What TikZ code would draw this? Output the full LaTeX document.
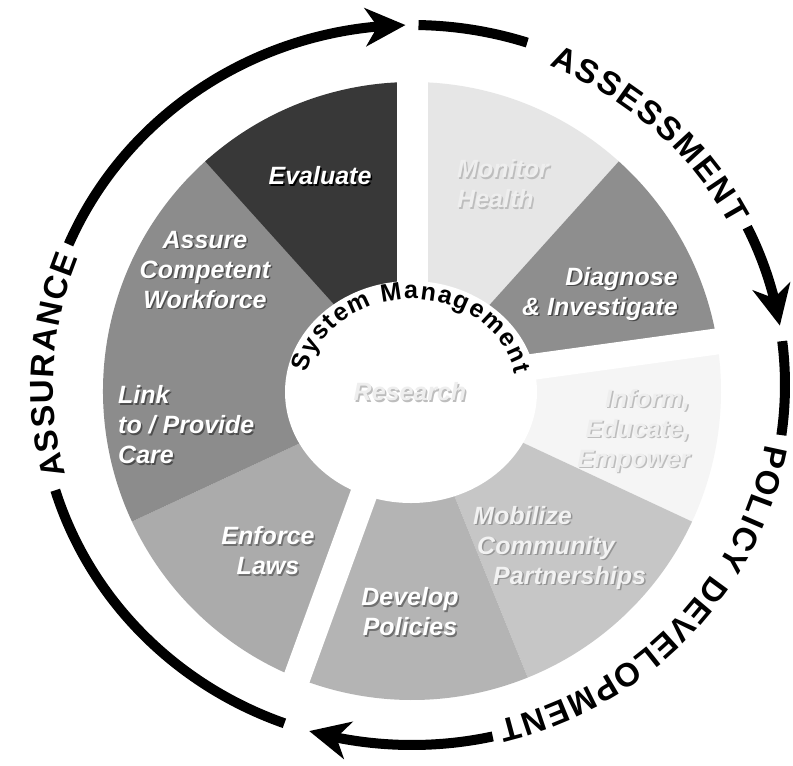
\documentclass[tikz,border=0pt]{standalone}
\usepackage{fontspec}
\setsansfont{Liberation Sans}
\usetikzlibrary{arrows.meta,bending,decorations.text}
\newcommand\rngfnt{\fontsize{33}{33}\selectfont\sffamily\bfseries}
\newcommand\smfnt{\fontsize{25}{25}\selectfont\sffamily\bfseries}
\definecolor{cEval}{HTML}{383838}
\definecolor{cAss}{HTML}{8C8C8C}
\definecolor{cEnf}{HTML}{ABABAB}
\definecolor{cDev}{HTML}{B4B4B4}
\definecolor{cMob}{HTML}{C6C6C6}
\definecolor{cInf}{HTML}{F5F5F5}
\definecolor{cDiag}{HTML}{8E8E8E}
\definecolor{cMon}{HTML}{E6E6E6}
\definecolor{cAsS}{HTML}{4E4E4E}
\definecolor{cDiagS}{HTML}{484848}
\definecolor{cDevS}{HTML}{707070}
\definecolor{cMobS}{HTML}{959595}
\definecolor{cMobF}{HTML}{F2F2F2}
\definecolor{cFaintS}{HTML}{BDBDBD}
\definecolor{cFaintF}{HTML}{EEEEEE}
\newcommand\wedgefill[3]{\fill[#3] (W) -- ++(#1:309pt) arc[start angle=#1,end angle=#2,radius=309pt] -- cycle;}
\newcommand\seglbl[6]{%
  \node[lbl,#2,text=#4,xshift=1.5pt,yshift=-1.5pt] (#1s) at (#3) {#6};
  \node[lbl,#2,text=#5] (#1) at (#3) {#6};}
\begin{document}
\begin{tikzpicture}[x=1pt,y=1pt,
  ring/.style={line width=10pt,draw=black},
  ringarrow/.style={ring,-{Stealth[length=40pt,width=38pt,inset=12pt]}},
  gapline/.style={draw=white,line width=#1},
  lbl/.style={font=\fontsize{25}{30}\selectfont\sffamily\bfseries\itshape,inner sep=0pt},
  ringtext/.style={decorate,decoration={text along path,text={|\rngfnt|#1},text align={fit to path},raise=-14.5pt}},
]
\useasboundingbox (0,0) rectangle (793,-766);
\fill[white] (0,0) rectangle (793,-766);
\coordinate (W) at (412,-391);
\coordinate (C) at (411,-392);
\coordinate (O) at (412,-385);
% wedges
\wedgefill{48}{90}{cMon}
\wedgefill{8}{48}{cDiag}
\wedgefill{-25}{8}{cInf}
\wedgefill{-68}{-25}{cMob}
\wedgefill{-110}{-68}{cDev}
\wedgefill{205}{250}{cEnf}
\wedgefill{131}{205}{cAss}
\wedgefill{90}{132}{cEval}
% gaps between the three groups
\draw[gapline=31pt] (412.5,-391) -- (412.5,-70);
\draw[gapline=27pt] (401,-392) -- (288,-702);
\draw[gapline=26pt] (412,-383.5) -- (739,-338.4);
% inner circle
\fill[white] (C) ellipse[x radius=126pt,y radius=111pt];
% labels
\seglbl{eval}{align=center}{320,-176}{black}{white}{Evaluate}
\seglbl{mon}{align=left,anchor=west}{457,-184}{cFaintS}{cFaintF}{Monitor\\Health}
\seglbl{diag}{align=right,anchor=east}{678,-294}{cDiagS}{white}{Diagnose\\\& Investigate}
\seglbl{inf}{align=right,anchor=east}{690,-431}{cFaintS}{cFaintF}{Inform,\\Educate,\\Empower}
\seglbl{mob}{align=left,anchor=west}{473,-548}{cMobS}{cMobF}{Mobilize\\\hspace*{4pt}Community\\\hspace*{20pt}Partnerships}
\seglbl{dev}{align=center}{410,-612}{cDevS}{white}{Develop\\Policies}
\seglbl{enf}{align=center}{268,-551}{cDevS}{white}{Enforce\\Laws}
\seglbl{link}{align=left,anchor=west}{118,-425}{cAsS}{white}{Link\\to / Provide\\Care}
\seglbl{ass}{align=center}{205,-270}{cAsS}{white}{Assure\\Competent\\Workforce}
\seglbl{res}{align=center}{410,-392}{cFaintS}{cFaintF}{Research}
% System Management
\path[decorate,decoration={text along path,text={|\smfnt|System Management},text align={fit to path}}]
  (C) ++(168:106pt and 93pt) arc[start angle=168,end angle=11,x radius=106pt,y radius=93pt];
% outer ring
\draw[ring] (O) ++(250:373pt and 360pt) arc[start angle=250,end angle=197,x radius=373pt,y radius=360pt];
\path[ringtext={ASSURANCE}] (O) ++(195:373pt and 360pt) arc[start angle=195,end angle=158.5,x radius=373pt,y radius=360pt];
\draw[ringarrow] (O) ++(157:373pt and 360pt) arc[start angle=157,end angle=91,x radius=373pt,y radius=360pt];
\draw[ring] (O) ++(89:373pt and 360pt) arc[start angle=89,end angle=72,x radius=373pt,y radius=360pt];
\path[ringtext={ASSESSMENT}] (O) ++(67.5:373pt and 360pt) arc[start angle=67.5,end angle=27.5,x radius=373pt,y radius=360pt];
\draw[ringarrow] (O) ++(26:373pt and 360pt) arc[start angle=26,end angle=9.5,x radius=373pt,y radius=360pt];
\draw[ring] (O) ++(7:373pt and 360pt) arc[start angle=7,end angle=-8,x radius=373pt,y radius=360pt];
\path[ringtext={POLICY DEVELOPMENT}] (O) ++(-10:373pt and 360pt) arc[start angle=-10,end angle=-76,x radius=373pt,y radius=360pt];
\draw[ringarrow] (O) ++(-77.5:373pt and 360pt) arc[start angle=-77.5,end angle=-106,x radius=373pt,y radius=360pt];
\end{tikzpicture}
\end{document}
